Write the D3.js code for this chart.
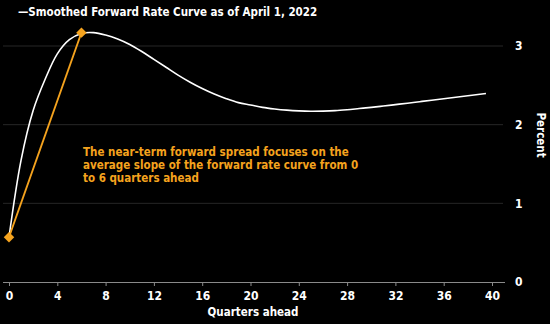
<!DOCTYPE html>
<html><head><meta charset="utf-8">
<script src="https://cdn.jsdelivr.net/npm/d3@7"></script>
<style>
html,body{margin:0;padding:0;background:#000;}
svg{display:block;}
text{font-family:"DejaVu Sans Condensed","DejaVu Sans",sans-serif;font-stretch:condensed;font-weight:700;}
</style></head>
<body>
<script>
const quarters = [0,1,2,3,4,5,6,7,8,9,10,11,12,13,14,15,16,17,18,19,20,21,22,23,24,25,26,27,28,29,30,31,32,33,34,35,36,37,38,39,39.5];
const forwardRate = [0.57,1.55,2.18,2.58,2.9,3.08,3.16,3.17,3.14,3.09,3.02,2.93,2.83,2.73,2.63,2.54,2.46,2.39,2.33,2.28,2.25,2.22,2.2,2.185,2.175,2.17,2.172,2.178,2.19,2.205,2.22,2.237,2.255,2.273,2.292,2.311,2.33,2.349,2.368,2.387,2.397];
const spreadQuarters = [0,6];
const spreadValues = [0.57,3.17];
const xTicks = [0,4,8,12,16,20,24,28,32,36,40];
const yTicks = [0,1,2,3];
const legendText = "\u2014Smoothed Forward Rate Curve as of April 1, 2022";
const noteLines = ["The near-term forward spread focuses on the","average slope of the forward rate curve from 0","to 6 quarters ahead"];

const W=550,H=324;
const svg=d3.select("body").append("svg").attr("width",W).attr("height",H);
svg.append("rect").attr("width",W).attr("height",H).attr("fill","#000");
const x=d3.scaleLinear().domain([0,40]).range([9,492]);
const y=d3.scaleLinear().domain([0,3]).range([282,46]);
const orange="#f5a31e";
const fs=11.5;
const ff='"DejaVu Sans Condensed","DejaVu Sans",sans-serif';

// gridlines
svg.append("g").selectAll("line").data(yTicks.filter(d=>d>0)).join("line")
  .attr("x1",3).attr("x2",503).attr("y1",d=>y(d)).attr("y2",d=>y(d))
  .attr("stroke","#262626").attr("stroke-width",1);

// x axis
const xa=svg.append("g").attr("transform","translate(0,282)")
  .call(d3.axisBottom(x).tickValues(xTicks).tickFormat(d3.format("d")).tickSize(4).tickPadding(5).tickSizeOuter(0));
xa.select(".domain").attr("d","M3,0.5H505").attr("stroke","#8a8a8a");
xa.selectAll(".tick line").attr("stroke","#8a8a8a");
xa.selectAll(".tick text").attr("fill","#fff").attr("font-size",12).attr("font-family",ff).attr("font-weight",700);

// y axis labels
const ya=svg.append("g").attr("transform","translate(515,0)")
  .call(d3.axisRight(y).tickValues(yTicks).tickFormat(d3.format("d")).tickSize(0).tickPadding(0));
ya.select(".domain").remove();
ya.selectAll(".tick text").attr("fill","#fff").attr("font-size",12).attr("font-family",ff).attr("font-weight",700);

// axis titles
svg.append("text").attr("x",253).attr("y",316).attr("text-anchor","middle")
  .attr("fill","#fff").attr("font-size",fs).text("Quarters ahead");
svg.append("text").attr("transform","translate(537,135) rotate(90)").attr("text-anchor","middle")
  .attr("fill","#fff").attr("font-size",fs).text("Percent");

// curve
const line=d3.line().x((d,i)=>x(quarters[i])).y(d=>y(d)).curve(d3.curveCatmullRom.alpha(0.5));
svg.append("path").datum(forwardRate).attr("d",line).attr("fill","none")
  .attr("stroke","#fff").attr("stroke-width",1.6);

// spread line
const sl=d3.line().x((d,i)=>x(spreadQuarters[i])).y(d=>y(d));
svg.append("path").datum(spreadValues).attr("d",sl).attr("fill","none")
  .attr("stroke",orange).attr("stroke-width",1.8);
svg.selectAll(".dia").data(spreadValues).join("path")
  .attr("d",d3.symbol().type(d3.symbolDiamond2).size(70))
  .attr("transform",(d,i)=>`translate(${x(spreadQuarters[i])},${y(d)})`)
  .attr("fill",orange);

// note
svg.append("g").selectAll("text").data(noteLines).join("text")
  .attr("x",83).attr("y",(d,i)=>156+i*13).attr("fill",orange).attr("font-size",fs).text(d=>d);

// legend
svg.append("text").attr("x",18).attr("y",16).attr("fill","#fff").attr("font-size",fs).text(legendText);
</script>
</body></html>
